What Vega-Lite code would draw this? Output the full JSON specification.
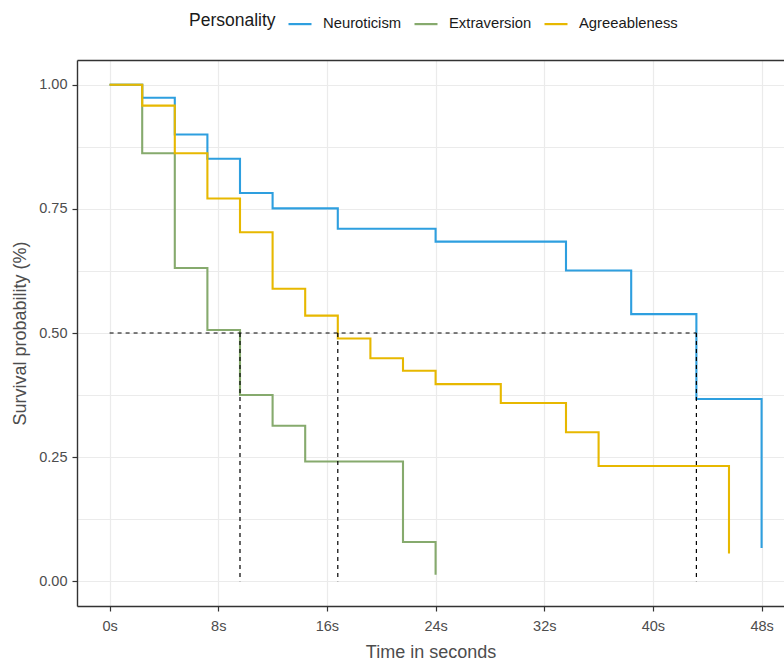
{
  "$schema": "https://vega.github.io/schema/vega-lite/v6.json",
  "width": 707,
  "height": 546,
  "autosize": "none",
  "padding": {"left": 77, "top": 60, "right": 0, "bottom": 56},
  "background": "white",
  "config": {
    "font": "Liberation Sans",
    "view": {"stroke": null},
    "axis": {
      "labelFont": "Liberation Sans",
      "titleFont": "Liberation Sans",
      "labelColor": "#4D4D4D",
      "titleColor": "#4D4D4D",
      "titleFontWeight": "normal",
      "labelFontSize": 14.5,
      "titleFontSize": 18,
      "gridColor": "#EBEBEB",
      "gridWidth": 1.2,
      "domainColor": "#333333",
      "domainWidth": 1.4,
      "tickColor": "#333333",
      "tickWidth": 1.2,
      "tickSize": 5
    },
    "legend": {
      "labelFont": "Liberation Sans",
      "titleFont": "Liberation Sans"
    }
  },
  "datasets": {
    "curves": [
      {"group": "Neuroticism", "time": 0, "surv": 1.0},
      {"group": "Neuroticism", "time": 2.4, "surv": 0.974},
      {"group": "Neuroticism", "time": 4.8, "surv": 0.900},
      {"group": "Neuroticism", "time": 7.2, "surv": 0.851},
      {"group": "Neuroticism", "time": 9.6, "surv": 0.782},
      {"group": "Neuroticism", "time": 12.0, "surv": 0.751},
      {"group": "Neuroticism", "time": 16.8, "surv": 0.710},
      {"group": "Neuroticism", "time": 24.0, "surv": 0.684},
      {"group": "Neuroticism", "time": 33.6, "surv": 0.626},
      {"group": "Neuroticism", "time": 38.4, "surv": 0.538},
      {"group": "Neuroticism", "time": 43.2, "surv": 0.367},
      {"group": "Neuroticism", "time": 48.0, "surv": 0.067},
      {"group": "Extraversion", "time": 0, "surv": 1.0},
      {"group": "Extraversion", "time": 2.4, "surv": 0.862},
      {"group": "Extraversion", "time": 4.8, "surv": 0.631},
      {"group": "Extraversion", "time": 7.2, "surv": 0.506},
      {"group": "Extraversion", "time": 9.6, "surv": 0.375},
      {"group": "Extraversion", "time": 12.0, "surv": 0.313},
      {"group": "Extraversion", "time": 14.4, "surv": 0.241},
      {"group": "Extraversion", "time": 21.6, "surv": 0.079},
      {"group": "Extraversion", "time": 24.0, "surv": 0.013},
      {"group": "Agreeableness", "time": 0, "surv": 1.0},
      {"group": "Agreeableness", "time": 2.4, "surv": 0.958},
      {"group": "Agreeableness", "time": 4.8, "surv": 0.862},
      {"group": "Agreeableness", "time": 7.2, "surv": 0.771},
      {"group": "Agreeableness", "time": 9.6, "surv": 0.703},
      {"group": "Agreeableness", "time": 12.0, "surv": 0.589},
      {"group": "Agreeableness", "time": 14.4, "surv": 0.535},
      {"group": "Agreeableness", "time": 16.8, "surv": 0.489},
      {"group": "Agreeableness", "time": 19.2, "surv": 0.449},
      {"group": "Agreeableness", "time": 21.6, "surv": 0.424},
      {"group": "Agreeableness", "time": 24.0, "surv": 0.397},
      {"group": "Agreeableness", "time": 28.8, "surv": 0.359},
      {"group": "Agreeableness", "time": 33.6, "surv": 0.300},
      {"group": "Agreeableness", "time": 36.0, "surv": 0.232},
      {"group": "Agreeableness", "time": 45.6, "surv": 0.056}
    ],
    "medians": [
      {"t1": 0, "s1": 0.5, "t2": 43.2, "s2": 0.5},
      {"t1": 9.6, "s1": 0.5, "t2": 9.6, "s2": 0},
      {"t1": 16.8, "s1": 0.5, "t2": 16.8, "s2": 0},
      {"t1": 43.2, "s1": 0.5, "t2": 43.2, "s2": 0}
    ]
  },
  "layer": [
    {
      "data": {"name": "curves"},
      "mark": {"type": "line", "interpolate": "step-after", "strokeWidth": 2.1, "clip": true},
      "encoding": {
        "x": {
          "field": "time", "type": "quantitative",
          "scale": {"domain": [-2.4, 49.65], "nice": false, "zero": false},
          "axis": {
            "title": "Time in seconds",
            "values": [0, 8, 16, 24, 32, 40, 48],
            "labelExpr": "datum.value + 's'",
            "labelPadding": 8,
            "titlePadding": 11,
            "grid": true
          }
        },
        "y": {
          "field": "surv", "type": "quantitative",
          "scale": {"domain": [-0.05, 1.05], "nice": false, "zero": false},
          "axis": {
            "title": "Survival probability (%)",
            "values": [0, 0.125, 0.25, 0.375, 0.5, 0.625, 0.75, 0.875, 1.0],
            "labelExpr": "datum.value % 0.25 === 0 ? format(datum.value, '.2f') : ''",
            "tickOpacity": {"condition": {"test": "datum.value % 0.25 !== 0", "value": 0}, "value": 1},
            "labelPadding": 5,
            "titlePadding": 9,
            "grid": true
          }
        },
        "color": {
          "field": "group", "type": "nominal",
          "sort": ["Neuroticism", "Extraversion", "Agreeableness"],
          "scale": {
            "domain": ["Neuroticism", "Extraversion", "Agreeableness"],
            "range": ["#2E9FDF", "#86AA6D", "#E7B800"]
          },
          "legend": {
            "title": "Personality",
            "orient": "none",
            "direction": "horizontal",
            "legendX": 112,
            "legendY": -49,
            "titleOrient": "left",
            "titleFontSize": 17.5,
            "titleFontWeight": "normal",
            "titleColor": "#1A1A1A",
            "titlePadding": 11,
            "labelFontSize": 14.8,
            "labelColor": "#1A1A1A",
            "labelOffset": 10,
            "symbolType": "stroke",
            "symbolSize": 529,
            "symbolStrokeWidth": 2.2,
            "columnPadding": 8
          }
        }
      }
    },
    {
      "data": {"name": "medians"},
      "mark": {"type": "rule", "color": "#000000", "strokeWidth": 1.2, "strokeDash": [4, 4]},
      "encoding": {
        "x": {
          "field": "t1", "type": "quantitative",
          "axis": {"orient": "top", "title": null, "labels": false, "ticks": false, "grid": false, "domain": true}
        },
        "y": {"field": "s1", "type": "quantitative"},
        "x2": {"field": "t2"},
        "y2": {"field": "s2"}
      }
    }
  ],
  "resolve": {"axis": {"x": "independent"}}
}
